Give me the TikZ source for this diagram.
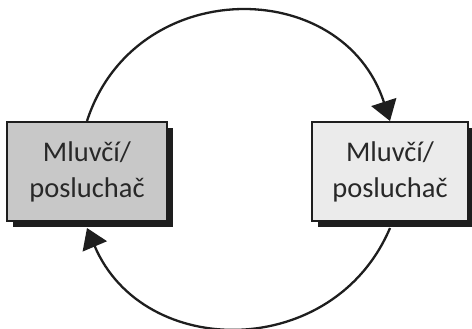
\documentclass[tikz,border=0pt]{standalone}
\usepackage{fontspec}
\setmainfont{Carlito}
\usepackage{tikz}
\usetikzlibrary{arrows.meta,shadows}
\definecolor{speakerFill}{RGB}{200,200,200}
\definecolor{listenerFill}{RGB}{235,235,235}
\definecolor{edgeColor}{RGB}{30,30,30}
\definecolor{textColor}{RGB}{40,40,40}
\tikzstyle{boxStyle} = [draw=edgeColor, line width=2bp, inner sep=0pt, minimum height=99bp, align=center, text=textColor, font=\fontsize{28.5bp}{36bp}\selectfont, general shadow={fill=edgeColor, shadow xshift=6bp, shadow yshift=-6bp}]
\tikzstyle{arcStyle} = [draw=edgeColor, line width=2.3bp, -{Triangle[length=20bp, width=26bp]}]

\begin{document}
\begin{tikzpicture}[x=1bp, y=1bp]
    \useasboundingbox (0,0) rectangle (472,328);
    \node [boxStyle, fill=speakerFill, minimum width=160bp] (speaker) at (87,156.5) {Mluvčí/\\posluchač};
    \node [boxStyle, fill=listenerFill, minimum width=156bp] (listener) at (390,156.5) {Mluvčí/\\posluchač};
    % oběh mezi mluvčími
    \draw [arcStyle] (speaker.north) to [out=72, in=108, looseness=1.3] (listener.north);
    \draw [arcStyle] ([yshift=-6bp]listener.south) to [out=-113, in=-67, looseness=1.22] ([yshift=-6bp]speaker.south);
\end{tikzpicture}
\end{document}
